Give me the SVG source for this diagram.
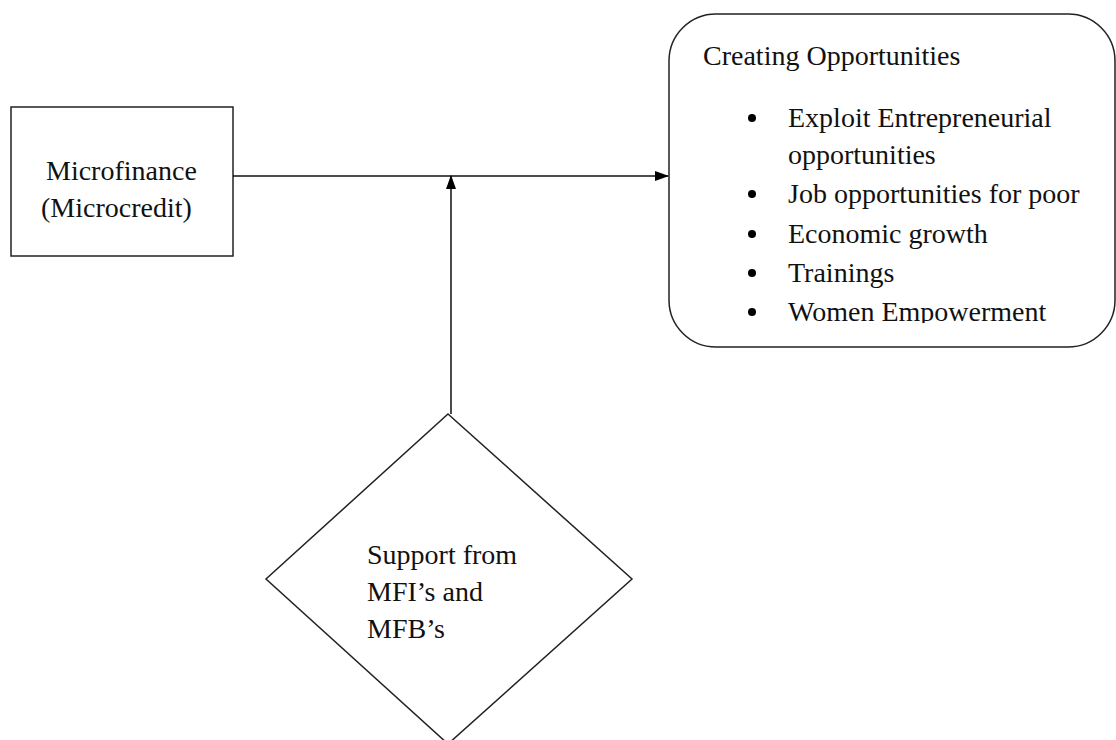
<svg xmlns="http://www.w3.org/2000/svg" width="1116" height="740" viewBox="0 0 1116 740">
<style>
.s{fill:#fff;stroke:#222;stroke-width:1.5}
.t{font-family:"Liberation Serif","Times New Roman",serif;font-size:28px;fill:#111}
.c{stroke:#111;stroke-width:1.5;fill:none}
</style>
<defs>
<marker id="ah" markerWidth="14" markerHeight="10" refX="13" refY="5" orient="auto" markerUnits="userSpaceOnUse">
<path d="M0,0 L14,5 L0,10 Z" fill="#000"/>
</marker>
<clipPath id="cl"><rect x="660" y="0" width="456" height="323"/></clipPath>
</defs>
<rect width="1116" height="740" fill="#fff"/>
<g id="microfinance">
<rect class="s" x="11" y="107" width="222" height="149"/>
<text class="t" x="46" y="180">Microfinance</text>
<text class="t" x="41" y="217">(Microcredit)</text>
</g>
<g id="opportunities">
<rect class="s" x="669" y="14" width="446" height="333" rx="47" ry="47"/>
<text class="t" x="703" y="65">Creating Opportunities</text>
<g clip-path="url(#cl)">
<circle cx="752" cy="118" r="4" fill="#000"/>
<text class="t" x="788" y="127">Exploit Entrepreneurial</text>
<text class="t" x="788" y="164">opportunities</text>
<circle cx="752" cy="194" r="4" fill="#000"/>
<text class="t" x="788" y="203">Job opportunities for poor</text>
<circle cx="752" cy="234" r="4" fill="#000"/>
<text class="t" x="788" y="243">Economic growth</text>
<circle cx="752" cy="273" r="4" fill="#000"/>
<text class="t" x="788" y="282">Trainings</text>
<circle cx="752" cy="312" r="4" fill="#000"/>
<text class="t" x="788" y="321">Women Empowerment</text>
</g>
</g>
<g id="support">
<polygon class="s" points="448,414 632,579 448,744 266,579"/>
<text class="t" x="367" y="564">Support from</text>
<text class="t" x="367" y="601">MFI’s and</text>
<text class="t" x="367" y="638">MFB’s</text>
</g>
<g id="connectors">
<line class="c" x1="233" y1="176" x2="668" y2="176" marker-end="url(#ah)"/>
<line class="c" x1="451" y1="414" x2="451" y2="176" marker-end="url(#ah)"/>
</g>
</svg>
